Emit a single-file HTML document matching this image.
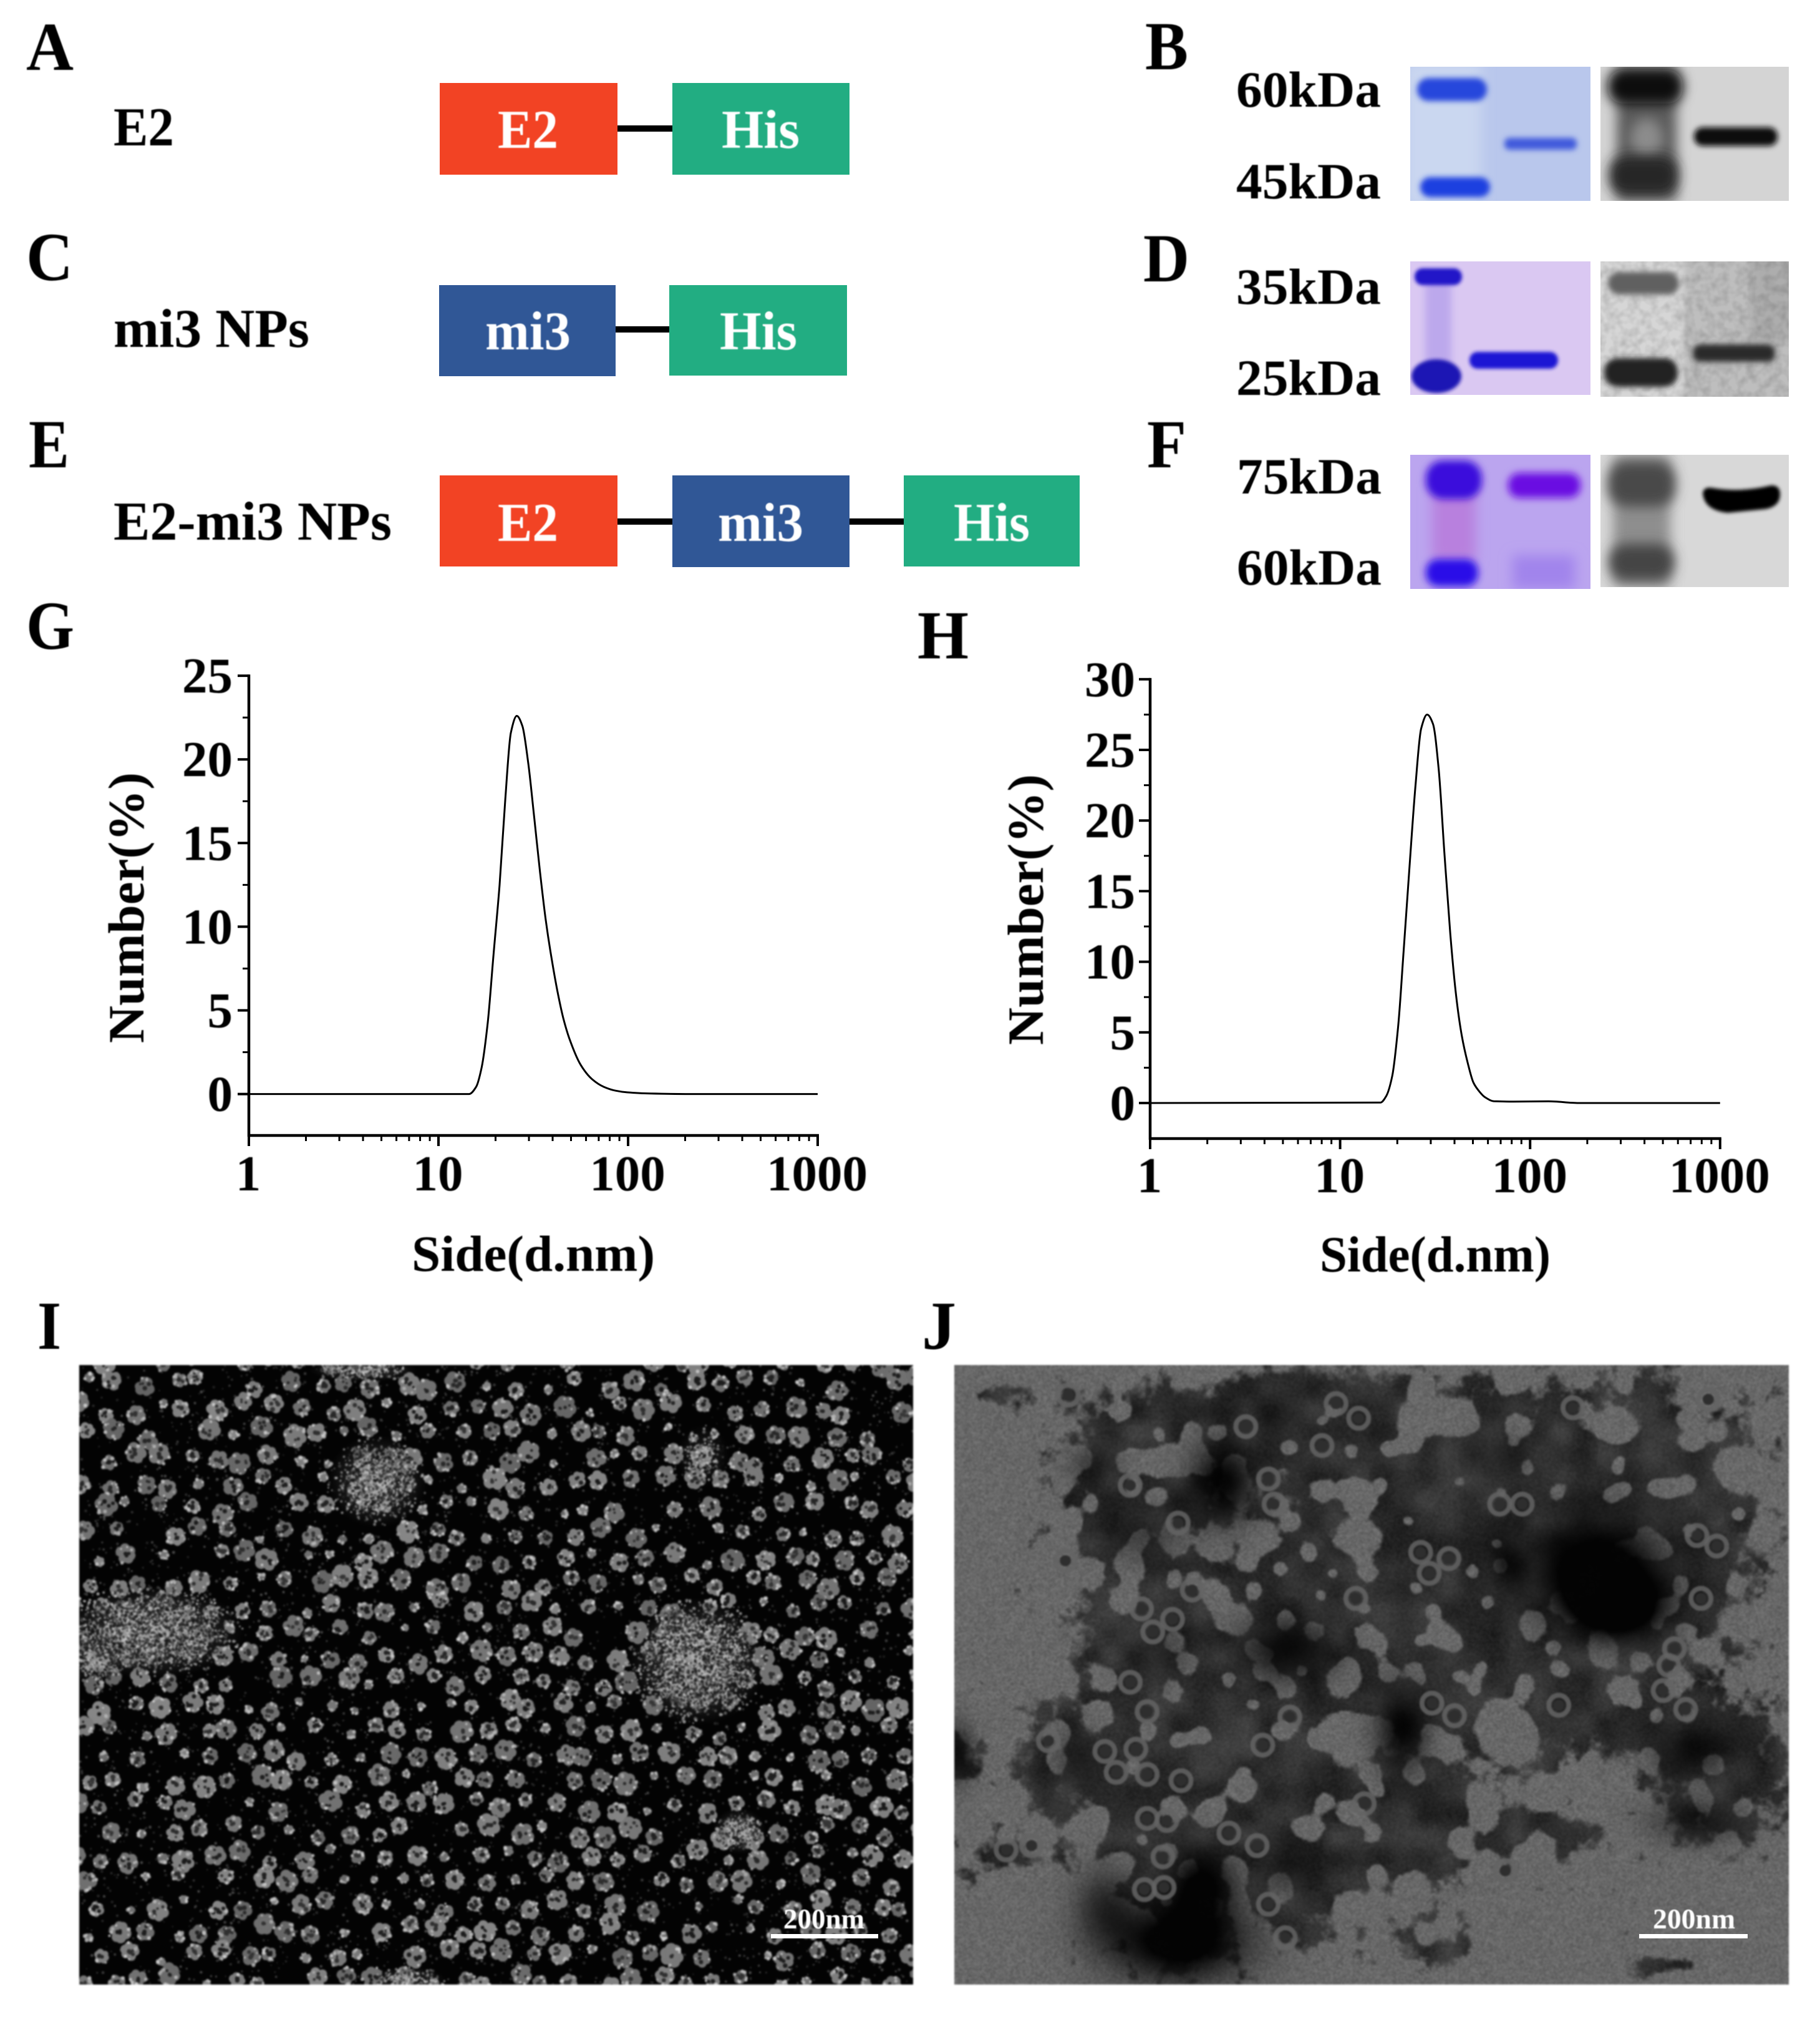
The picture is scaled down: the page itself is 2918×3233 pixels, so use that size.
<!DOCTYPE html>
<html lang="en">
<head>
<meta charset="utf-8">
<title>E2-mi3 nanoparticle characterization figure</title>
<style>
html,body{margin:0;padding:0;background:#fff;}
body{position:relative;width:2918px;height:3233px;overflow:hidden;}
canvas{position:absolute;filter:blur(1.2px);}
#figure{position:absolute;left:0;top:0;}
text{font-family:"Liberation Serif",serif;font-weight:bold;fill:#000;}
.soft{filter:blur(0.9px);}
.box-text{fill:#fff;font-size:88px;}
.row-label{font-size:88px;}
.panel{font-size:110px;}
.kda{font-size:82px;}
.tick{font-size:81px;}
.title{font-size:82px;}
.scale{fill:#fff;font-size:46px;}
</style>
</head>
<body>
<canvas id="em-i" width="1337" height="993" style="left:127px;top:2188px;width:1337px;height:993px"></canvas>
<canvas id="em-j" width="1338" height="993" style="left:1530px;top:2188px;width:1338px;height:993px"></canvas>

<svg id="figure" width="2918" height="3233" viewBox="0 0 2918 3233" xmlns="http://www.w3.org/2000/svg">
<defs>
<filter id="b2" x="-40%" y="-80%" width="180%" height="260%"><feGaussianBlur stdDeviation="3"/></filter>
<filter id="b3" x="-40%" y="-80%" width="180%" height="260%"><feGaussianBlur stdDeviation="4.5"/></filter>
<filter id="b6" x="-40%" y="-60%" width="180%" height="220%"><feGaussianBlur stdDeviation="6"/></filter>
<filter id="b10" x="-50%" y="-80%" width="200%" height="260%"><feGaussianBlur stdDeviation="10"/></filter>
<filter id="grain" x="0" y="0" width="100%" height="100%"><feTurbulence type="fractalNoise" baseFrequency="0.07" numOctaves="2" seed="4"/><feColorMatrix values="0 0 0 0 0  0 0 0 0 0  0 0 0 0 0  0.28 0 0 0 -0.1"/></filter>
</defs>

<!-- Panel letters -->
<g class="soft">
<text class="panel" x="42" y="112" textLength="76" lengthAdjust="spacingAndGlyphs">A</text>
<text class="panel" x="1836" y="111" textLength="69" lengthAdjust="spacingAndGlyphs">B</text>
<text class="panel" x="42" y="449" textLength="75" lengthAdjust="spacingAndGlyphs">C</text>
<text class="panel" x="1833" y="451" textLength="74" lengthAdjust="spacingAndGlyphs">D</text>
<text class="panel" x="46" y="749" textLength="65" lengthAdjust="spacingAndGlyphs">E</text>
<text class="panel" x="1839" y="749" textLength="63" lengthAdjust="spacingAndGlyphs">F</text>
<text class="panel" x="42" y="1040" textLength="77" lengthAdjust="spacingAndGlyphs">G</text>
<text class="panel" x="1471" y="1055" textLength="82" lengthAdjust="spacingAndGlyphs">H</text>
<text class="panel" x="60" y="2162" textLength="38" lengthAdjust="spacingAndGlyphs">I</text>
<text class="panel" x="1478" y="2162" textLength="55" lengthAdjust="spacingAndGlyphs">J</text>
</g>

<!-- Construct diagrams -->
<g>
<rect x="990" y="201" width="90" height="10" fill="#000"/>
<rect x="705" y="133" width="285" height="147" fill="#F24324"/>
<rect x="1078" y="133" width="284" height="147" fill="#22AD82"/>
</g>
<g>
<rect x="987" y="523" width="88" height="10" fill="#000"/>
<rect x="704" y="457" width="283" height="146" fill="#305796"/>
<rect x="1073" y="457" width="285" height="145" fill="#22AD82"/>
</g>
<g>
<rect x="990" y="831" width="90" height="10" fill="#000"/>
<rect x="1362" y="831" width="89" height="10" fill="#000"/>
<rect x="705" y="762" width="285" height="146" fill="#F24324"/>
<rect x="1078" y="762" width="284" height="147" fill="#305796"/>
<rect x="1449" y="762" width="282" height="146" fill="#22AD82"/>
</g>
<g class="soft">
<text class="row-label" x="182" y="233" textLength="97" lengthAdjust="spacingAndGlyphs">E2</text>
<text class="row-label" x="182" y="556" textLength="314" lengthAdjust="spacingAndGlyphs">mi3 NPs</text>
<text class="row-label" x="182" y="865" textLength="446" lengthAdjust="spacingAndGlyphs">E2-mi3 NPs</text>
<text class="box-text" x="798" y="237" textLength="97" lengthAdjust="spacingAndGlyphs">E2</text>
<text class="box-text" x="1157" y="237" textLength="125" lengthAdjust="spacingAndGlyphs">His</text>
<text class="box-text" x="778" y="560" textLength="137" lengthAdjust="spacingAndGlyphs">mi3</text>
<text class="box-text" x="1154" y="560" textLength="124" lengthAdjust="spacingAndGlyphs">His</text>
<text class="box-text" x="798" y="867" textLength="97" lengthAdjust="spacingAndGlyphs">E2</text>
<text class="box-text" x="1151" y="867" textLength="137" lengthAdjust="spacingAndGlyphs">mi3</text>
<text class="box-text" x="1529" y="867" textLength="122" lengthAdjust="spacingAndGlyphs">His</text>
</g>

<!-- kDa labels -->
<g class="soft">
<text class="kda" x="1982" y="171" textLength="232" lengthAdjust="spacingAndGlyphs">60kDa</text>
<text class="kda" x="1982" y="318" textLength="232" lengthAdjust="spacingAndGlyphs">45kDa</text>
<text class="kda" x="1982" y="487" textLength="232" lengthAdjust="spacingAndGlyphs">35kDa</text>
<text class="kda" x="1982" y="633" textLength="232" lengthAdjust="spacingAndGlyphs">25kDa</text>
<text class="kda" x="1983" y="791" textLength="232" lengthAdjust="spacingAndGlyphs">75kDa</text>
<text class="kda" x="1983" y="937" textLength="232" lengthAdjust="spacingAndGlyphs">60kDa</text>
</g>

<!-- Gel B -->
<svg x="2261" y="107" width="289" height="215" viewBox="2261 107 289 215">
<rect x="2261" y="107" width="289" height="215" fill="#B9C7EC"/>
<rect x="2255" y="100" width="120" height="230" fill="#CAD7F0" filter="url(#b10)"/>
<rect x="2272" y="125" width="112" height="37" rx="18" fill="#2747DC" filter="url(#b3)"/>
<rect x="2277" y="284" width="112" height="32" rx="16" fill="#1C3FE0" filter="url(#b3)"/>
<rect x="2412" y="221" width="116" height="19" rx="8" fill="#3F5ADC" filter="url(#b3)"/>
</svg>
<svg x="2566" y="107" width="302" height="215" viewBox="2566 107 302 215">
<rect x="2566" y="107" width="302" height="215" fill="#D4D4D4"/>
<rect x="2592" y="107" width="96" height="215" fill="#5A5A5A" filter="url(#b10)"/>
<ellipse cx="2640" cy="222" rx="26" ry="32" fill="#8C8C8C" filter="url(#b10)"/>
<rect x="2578" y="112" width="120" height="54" rx="24" fill="#0C0C0C" filter="url(#b10)"/>
<rect x="2580" y="250" width="110" height="62" rx="26" fill="#262626" filter="url(#b10)"/>
<rect x="2716" y="204" width="134" height="30" rx="14" fill="#111" filter="url(#b3)"/>
</svg>

<!-- Gel D -->
<svg x="2261" y="419" width="289" height="214" viewBox="2261 419 289 214">
<rect x="2261" y="419" width="289" height="214" fill="#DAC8F2"/>
<rect x="2285" y="440" width="42" height="150" fill="#BCA8EC" filter="url(#b6)"/>
<rect x="2268" y="430" width="76" height="27" rx="13" fill="#2218C8" filter="url(#b2)"/>
<ellipse cx="2303" cy="603" rx="40" ry="27" fill="#1A14B4" filter="url(#b2)"/>
<rect x="2356" y="564" width="142" height="27" rx="13" fill="#1E12D4" filter="url(#b2)"/>
</svg>
<svg x="2566" y="419" width="302" height="217" viewBox="2566 419 302 217">
<rect x="2566" y="419" width="302" height="217" fill="#D6D6D6"/>
<rect x="2700" y="410" width="175" height="235" fill="#BEBEBE" filter="url(#b3)"/>
<rect x="2806" y="410" width="70" height="140" fill="#ADADAD" filter="url(#b6)"/>
<rect x="2566" y="419" width="302" height="217" filter="url(#grain)"/>
<rect x="2578" y="436" width="114" height="36" rx="18" fill="#606060" filter="url(#b3)"/>
<rect x="2572" y="574" width="118" height="46" rx="22" fill="#222" filter="url(#b3)"/>
<rect x="2714" y="552" width="132" height="28" rx="12" fill="#2A2A2A" filter="url(#b3)"/>
</svg>

<!-- Gel F -->
<svg x="2261" y="729" width="289" height="215" viewBox="2261 729 289 215">
<rect x="2261" y="729" width="289" height="215" fill="#BBA5EF"/>
<rect x="2296" y="780" width="70" height="120" fill="#B880DE" filter="url(#b10)"/>
<rect x="2286" y="738" width="90" height="62" rx="28" fill="#3A0CDC" filter="url(#b6)"/>
<rect x="2286" y="896" width="84" height="44" rx="20" fill="#2A0EE8" filter="url(#b6)"/>
<rect x="2418" y="758" width="116" height="40" rx="18" fill="#6A08E2" filter="url(#b6)"/>
<rect x="2425" y="890" width="100" height="54" fill="#A184EC" filter="url(#b10)"/>
</svg>
<svg x="2566" y="729" width="302" height="212" viewBox="2566 729 302 212">
<rect x="2566" y="729" width="302" height="212" fill="#D8D8D8"/>
<rect x="2586" y="729" width="92" height="212" fill="#8E8E8E" filter="url(#b10)"/>
<rect x="2578" y="740" width="108" height="72" rx="30" fill="#4A4A4A" filter="url(#b10)"/>
<rect x="2580" y="872" width="104" height="58" rx="26" fill="#444" filter="url(#b10)"/>
<path d="M2730 790 Q2732 780 2745 782 Q2790 790 2840 778 Q2854 778 2854 792 Q2854 812 2830 816 L2770 822 Q2732 818 2730 790Z" fill="#000" filter="url(#b2)"/>
</svg>

<!-- Charts are built here by script -->
<g id="chart-g"></g>
<g id="chart-h"></g>

<!-- Scale bars -->
<g>
<rect x="1236" y="3100" width="172" height="7" fill="#fff"/>
<text class="scale soft" x="1256" y="3091" textLength="130" lengthAdjust="spacingAndGlyphs">200nm</text>
</g>
<g>
<rect x="2628" y="3100" width="174" height="7" fill="#fff"/>
<text class="scale soft" x="2650" y="3091" textLength="132" lengthAdjust="spacingAndGlyphs">200nm</text>
</g>
</svg>

<script>
/* ---------- Chart data ---------- */
const xTickValues = [1, 10, 100, 1000];
const xTickLabels = ['1', '10', '100', '1000'];
const gYTicks = [0, 5, 10, 15, 20, 25];
const hYTicks = [0, 5, 10, 15, 20, 25, 30];
const gSizes = [1, 14.5, 15.8, 16.9, 18.2, 19.5, 21, 22.5, 24.1, 25.9, 27.7, 29.8, 32, 34.3, 36.8, 39.5, 42.4, 45.5, 48.9, 56.2, 64.7, 74.5, 85.9, 98.9, 131, 200, 1000];
const gNumbers = [0, 0, 0.43, 1.6, 4.3, 8.3, 12.5, 17.6, 21.6, 22.6, 22, 19.7, 16.5, 13.3, 10.4, 8.1, 6.15, 4.55, 3.35, 1.75, 0.88, 0.43, 0.2, 0.1, 0.03, 0, 0];
const hSizes = [1, 16.3, 17.5, 18.8, 20.2, 21.6, 23.2, 24.9, 26.7, 28.7, 30.8, 33, 35.4, 38, 40.8, 43.7, 46.9, 50.3, 54, 57.9, 64.4, 82, 125, 180, 1000];
const hNumbers = [0, 0.03, 0.5, 1.9, 5.4, 10.8, 16.75, 22.4, 26.5, 27.5, 26.85, 23.7, 17.7, 12, 7.6, 4.76, 2.87, 1.45, 0.82, 0.41, 0.13, 0.1, 0.12, 0, 0];

const SVGNS = 'http://www.w3.org/2000/svg';

function mk(tag, parent, attrs) {
  const el = document.createElementNS(SVGNS, tag);
  for (const k in attrs) el.setAttribute(k, attrs[k]);
  parent.appendChild(el);
  return el;
}

/* Monotone cubic through the read points, so the curve never overshoots */
function curvePath(pts) {
  const n = pts.length;
  const dx = [], s = [], m = [];
  for (let i = 0; i < n - 1; i++) {
    dx[i] = pts[i + 1][0] - pts[i][0];
    s[i] = (pts[i + 1][1] - pts[i][1]) / dx[i];
  }
  m[0] = s[0];
  m[n - 1] = s[n - 2];
  for (let i = 1; i < n - 1; i++) {
    if (s[i - 1] * s[i] <= 0) {
      m[i] = 0;
    } else {
      const w1 = 2 * dx[i] + dx[i - 1], w2 = dx[i] + 2 * dx[i - 1];
      m[i] = (w1 + w2) / (w1 / s[i - 1] + w2 / s[i]);
    }
  }
  let d = 'M' + pts[0][0].toFixed(1) + ' ' + pts[0][1].toFixed(1);
  for (let i = 0; i < n - 1; i++) {
    const h = dx[i] / 3;
    d += 'C' + (pts[i][0] + h).toFixed(1) + ' ' + (pts[i][1] + m[i] * h).toFixed(1) + ' ' + (pts[i + 1][0] - h).toFixed(1) + ' ' + (pts[i + 1][1] - m[i + 1] * h).toFixed(1) + ' ' + pts[i + 1][0].toFixed(1) + ' ' + pts[i + 1][1].toFixed(1);
  }
  return d;
}

function drawChart(cfg) {
  const g = cfg.group;
  const xPos = v => cfg.x0 + Math.log10(v) * cfg.decade;
  const yPos = v => cfg.y0 - v * cfg.unit;
  const top = yPos(cfg.yTicks[cfg.yTicks.length - 1]);

  const yAxis = mk('line', g, {x1: cfg.x0, x2: cfg.x0, y1: top - 2, y2: cfg.bottom + 2, stroke: '#000', 'stroke-width': 4.5});
  
  
  const xAxis = mk('line', g, {x1: cfg.x0 - 2, x2: xPos(1000) + 2, y1: cfg.bottom, y2: cfg.bottom, stroke: '#000', 'stroke-width': 4.5});
  
  

  cfg.yTicks.forEach((v, i) => {
    const tick = mk('line', g, {x1: cfg.x0 - 18, x2: cfg.x0, y1: yPos(v), y2: yPos(v), stroke: '#000', 'stroke-width': 4});
    
    
    const lab = mk('text', g, {x: cfg.labelRight, y: yPos(v) + 27, 'text-anchor': 'end', class: 'tick soft'});
    lab.textContent = String(v);
    
    
    if (i < cfg.yTicks.length - 1) {
      const minorValue = (v + cfg.yTicks[i + 1]) / 2;
      const minor = mk('line', g, {x1: cfg.x0 - 10, x2: cfg.x0, y1: yPos(minorValue), y2: yPos(minorValue), stroke: '#000', 'stroke-width': 3});
      
      
    }
  });

  xTickValues.forEach((v, i) => {
    const tick = mk('line', g, {x1: xPos(v), x2: xPos(v), y1: cfg.bottom, y2: cfg.bottom + 17, stroke: '#000', 'stroke-width': 4});
    
    
    const lab = mk('text', g, {x: xPos(v) - 1, y: cfg.xLabelBase, 'text-anchor': 'middle', class: 'tick soft'});
    lab.textContent = xTickLabels[i];
    
    
    if (v < 1000) {
      for (let m = 2; m <= 9; m++) {
        const minor = mk('line', g, {x1: xPos(v * m), x2: xPos(v * m), y1: cfg.bottom, y2: cfg.bottom + 9, stroke: '#000', 'stroke-width': 3});
        
        
      }
    }
  });

  const pts = cfg.sizes.map((s, i) => [xPos(s), yPos(cfg.values[i])]);
  const line = mk('path', g, {d: curvePath(pts), fill: 'none', stroke: '#000', 'stroke-width': 3, 'stroke-linejoin': 'round'});
  
  

  const xt = mk('text', g, {x: cfg.xTitleX, y: cfg.xTitleY, textLength: cfg.xTitleW, lengthAdjust: 'spacingAndGlyphs', class: 'title soft'});
  xt.textContent = 'Side(d.nm)';
  
  
  const yt = mk('text', g, {transform: 'translate(' + cfg.yTitleX + ' ' + cfg.yTitleBottom + ') rotate(-90)', textLength: cfg.yTitleLen, lengthAdjust: 'spacingAndGlyphs', class: 'title soft'});
  yt.textContent = 'Number(%)';
  
  
}

drawChart({group: document.getElementById('chart-g'), x0: 399, decade: 304, y0: 1753.6, unit: 26.82, bottom: 1820, yTicks: gYTicks, sizes: gSizes, values: gNumbers, labelRight: 373, xLabelBase: 1908, xTitleX: 660, xTitleY: 2037, xTitleW: 390, yTitleX: 230, yTitleBottom: 1672, yTitleLen: 434});
drawChart({group: document.getElementById('chart-h'), x0: 1844, decade: 304.6, y0: 1768, unit: 22.64, bottom: 1825, yTicks: hYTicks, sizes: hSizes, values: hNumbers, labelRight: 1820, xLabelBase: 1911, xTitleX: 2116, xTitleY: 2038, xTitleW: 370, yTitleX: 1672, yTitleBottom: 1675, yTitleLen: 434});

/* ---------- Electron micrograph textures ---------- */
function rng(seed) {
  return function () {
    seed |= 0; seed = seed + 0x6D2B79F5 | 0;
    let t = Math.imul(seed ^ seed >>> 15, 1 | seed);
    t = t + Math.imul(t ^ t >>> 7, 61 | t) ^ t;
    return ((t ^ t >>> 14) >>> 0) / 4294967296;
  };
}

(function drawI() {
  const c = document.getElementById('em-i').getContext('2d');
  const r = rng(11);
  const zx = z => (z - 30) / 1.12, zy = z => (z - 13) / 1.489;
  const grey = (l, a) => 'rgba(' + l + ',' + l + ',' + l + ',' + a + ')';
  c.fillStyle = '#030303';
  c.fillRect(0, 0, 1337, 993);
  for (let k = 0; k < 5000; k++) {
    c.fillStyle = grey(30 + r() * 50 | 0, 1);
    c.beginPath();
    c.arc(r() * 1337, r() * 993, 1 + r() * 1.4, 0, 6.283);
    c.fill();
  }
  const voids = [[350, 330, 60], [450, 640, 50], [980, 800, 45], [720, 470, 50], [1350, 900, 35], [1430, 60, 70], [600, 170, 40], [1130, 1100, 35], [300, 1050, 30], [200, 780, 35]];
  const clouds = [[160, 650, 120, 80, 1], [1140, 720, 90, 110, 1], [565, 290, 65, 80, .8], [1215, 1125, 35, 40, .75], [540, 25, 70, 20, .75], [620, 1480, 50, 22, .6], [1150, 230, 35, 55, .35], [60, 720, 40, 40, .5]];
  const sp = 46;
  for (let j = 0; j * sp * 0.866 < 1040; j++) {
    for (let i = 0; i * sp < 1400; i++) {
      const px = i * sp + (j % 2) * sp / 2 + (r() - .5) * 24 - 10;
      const py = j * sp * 0.866 + (r() - .5) * 24 - 10;
      let skip = .04;
      voids.forEach(v => {
        const dx = px - zx(v[0]), dy = py - zy(v[1]);
        if (dx * dx + dy * dy < v[2] * v[2]) skip = .35;
      });
      if (r() < skip) continue;
      const rad = r() < .2 ? 6 + r() * 3 : 11 + r() * 8;
      const base = 100 + r() * 35 | 0;
      c.fillStyle = grey(base, 1);
      const petals = 6;
      for (let k = 0; k < petals; k++) {
        const a = k / petals * 6.283 + r() * .5;
        c.beginPath();
        c.arc(px + Math.cos(a) * rad * .55, py + Math.sin(a) * rad * .55, rad * (.42 + r() * .12), 0, 6.283);
        c.fill();
      }
      c.beginPath();
      c.arc(px, py, rad * .6, 0, 6.283);
      c.fill();
      const holes = rad > 9 ? 3 + r() * 4 | 0 : 0;
      c.fillStyle = grey(25 + r() * 30 | 0, 1);
      for (let k = 0; k < holes; k++) {
        const a = r() * 6.283, d = r() * rad * .6;
        c.beginPath();
        c.arc(px + Math.cos(a) * d, py + Math.sin(a) * d, 1.8 + r() * 2, 0, 6.283);
        c.fill();
      }
      const spots = 3 + r() * 6 | 0;
      for (let k = 0; k < spots; k++) {
        const a = r() * 6.283, d = rad * (.6 + r() * .4);
        c.fillStyle = grey(165 + r() * 50 | 0, .85);
        c.beginPath();
        c.arc(px + Math.cos(a) * d, py + Math.sin(a) * d, 1.6 + r() * 1.6, 0, 6.283);
        c.fill();
      }
    }
  }
  clouds.forEach(cl => {
    const cx = zx(cl[0]), cy = zy(cl[1]), rx = cl[2] / 1.12, ry = cl[3] / 1.489;
    c.save();
    c.translate(cx, cy);
    c.scale(rx, ry);
    const g = c.createRadialGradient(0, 0, 0, 0, 0, 1.4);
    g.addColorStop(0, grey(135, .55 * cl[4]));
    g.addColorStop(.6, grey(105, .3 * cl[4]));
    g.addColorStop(1, grey(80, 0));
    c.fillStyle = g;
    c.beginPath();
    c.arc(0, 0, 1.4, 0, 6.283);
    c.fill();
    c.restore();
    const n = rx * ry * .45 * cl[4] | 0;
    for (let k = 0; k < n; k++) {
      const a = r() * 6.283;
      const d = Math.sqrt(-2 * Math.log(1 - r() * .98)) * .5;
      c.fillStyle = grey(120 + r() * 90 | 0, .75);
      c.beginPath();
      c.arc(cx + Math.cos(a) * d * rx, cy + Math.sin(a) * d * ry, 1.2 + r() * 1.5, 0, 6.283);
      c.fill();
    }
    for (let k = 0; k < n * .5; k++) {
      const a = r() * 6.283;
      const d = Math.sqrt(r()) * 1.15;
      c.fillStyle = grey(20, .6);
      c.beginPath();
      c.arc(cx + Math.cos(a) * d * rx, cy + Math.sin(a) * d * ry, 1.2 + r() * 1.5, 0, 6.283);
      c.fill();
    }
  });
})();

(function drawJ() {
  const W = 669, H = 497;
  const off = document.createElement('canvas');
  off.width = W;
  off.height = H;
  const oc = off.getContext('2d');
  const img = oc.createImageData(W, H);
  const r = rng(29);
  const zx = z => (z - 33) / 1.106 / 2, zy = z => (z - 13) / 1.489 / 2;
  const toE = a => ({cx: zx(a[0]), cy: zy(a[1]), rx: a[2] / 1.106 / 2, ry: a[3] / 1.489 / 2, w: a[4]});
  const mids = [[350,350,130,200,1],[400,200,120,100,.9],[150,80,100,40,.8],[600,130,150,110,.9],[800,250,110,170,.8],[700,600,200,200,.9],[350,800,130,350,1],[200,950,70,120,.8],[130,1170,90,90,.7],[420,1150,130,350,1],[600,1050,100,300,.8],[700,1100,200,180,.7],[850,1090,140,110,.7],[950,600,130,320,1],[1150,300,220,180,1],[1000,200,120,120,.8],[1300,300,150,200,.9],[1300,600,150,250,1],[1100,800,130,150,.9],[1400,1030,120,150,1],[1330,900,120,70,.9],[950,1150,200,70,.7],[1100,1130,100,40,.7],[700,1230,130,150,.7],[1480,80,60,60,.5],[1250,60,60,50,.5],[880,1400,80,70,.7],[1180,1350,40,70,.6],[1280,1450,60,30,.7],[40,940,40,100,.9],
    [800,450,300,300,.8],[700,800,250,250,.6],[1000,300,150,100,.5],[950,760,200,110,.5],[800,120,200,80,.4]].map(toE);
  const lights = [[400,240,70,50],[490,445,32,38],[570,430,36,42],[750,430,60,62],[530,620,42,42],[620,620,24,34],[890,655,36,50],[720,760,42,52],[1000,860,50,80],[905,920,28,32],[730,900,55,70],[1200,320,30,32],[1300,310,22,34],[1285,450,32,32],[1420,270,30,50],[1180,690,30,50],[740,310,34,38],[540,1020,34,36],[270,1120,28,42],[900,140,70,60],[1030,160,35,35],[1200,160,45,45],[660,1120,50,50],[1110,580,25,30],[620,780,25,40],[850,740,28,35],[925,755,22,25],[340,485,25,50],[660,460,18,28],[1340,195,25,30],[1040,900,30,50]].map(a => toE(a.concat(-2.4)));
  const blacks = [[1170,500,125,135,1.3],[1210,590,85,80,1.3],[510,290,65,105,1],[430,1390,135,105,1.2],[470,1250,65,95,1],[620,690,95,85,.85],[825,880,50,115,.9],[1340,930,75,75,.7],[40,940,30,80,.7],[300,1300,60,100,.55],[1350,1100,90,60,.55],[620,1220,55,65,.45],[370,420,80,70,.4],[280,250,50,50,.45],[1010,480,35,70,.6],[400,700,60,80,.35],[250,950,50,80,.4],[1000,230,70,60,.35],[600,130,70,50,.3]].map(toE);

  const field = new Float32Array(W * H);
  const black = new Float32Array(W * H);
  function splat(arr, e, sharp) {
    const ex = e.rx * 2.6, ey = e.ry * 2.6;
    const x0 = Math.max(0, Math.floor(e.cx - ex)), x1 = Math.min(W - 1, Math.ceil(e.cx + ex));
    const y0 = Math.max(0, Math.floor(e.cy - ey)), y1 = Math.min(H - 1, Math.ceil(e.cy + ey));
    for (let y = y0; y <= y1; y++) {
      for (let x = x0; x <= x1; x++) {
        const dx = (x - e.cx) / e.rx, dy = (y - e.cy) / e.ry;
        arr[y * W + x] += e.w * Math.exp(-(dx * dx + dy * dy) * sharp);
      }
    }
  }
  mids.forEach(e => splat(field, e, 1));
  lights.forEach(e => splat(field, e, 1.6));
  blacks.forEach(e => splat(black, e, 1.2));
  /* scattered small pale particles on the dark stain */
  const br = rng(77);
  for (let gy = 0; gy < H; gy += 30) {
    for (let gx = 0; gx < W; gx += 30) {
      if (br() < .35) continue;
      const rr = 5 + br() * 9;
      splat(field, {cx: gx + br() * 30, cy: gy + br() * 30, rx: rr, ry: rr * (0.8 + br() * .5), w: -2.2}, 1.6);
    }
  }

  const lat = {};
  const rn = rng(5);
  function hash(ix, iy, s) {
    const k = ix + ',' + iy + ',' + s;
    if (lat[k] === undefined) lat[k] = rn();
    return lat[k];
  }
  function vnoise(x, y, s) {
    const ix = Math.floor(x), iy = Math.floor(y), fx = x - ix, fy = y - iy;
    const ux = fx * fx * (3 - 2 * fx), uy = fy * fy * (3 - 2 * fy);
    const a = hash(ix, iy, s), b = hash(ix + 1, iy, s), c = hash(ix, iy + 1, s), d = hash(ix + 1, iy + 1, s);
    return (a + (b - a) * ux) * (1 - uy) + (c + (d - c) * ux) * uy;
  }
  for (let y = 0; y < H; y++) {
    for (let x = 0; x < W; x++) {
      const n = vnoise(x / 12, y / 12, 1) * .5 + vnoise(x / 5, y / 5, 2) * .32 + vnoise(x / 2.2, y / 2.2, 3) * .18;
      const f = field[y * W + x] + (n - .5) * 1.15;
      let t = (f - .34) / .3;
      t = t < 0 ? 0 : t > 1 ? 1 : t;
      const dark = 30 + 36 * vnoise(x / 18, y / 18, 4);
      let lum = 104 * (1 - t) + dark * t;
      const b = black[y * W + x];
      lum *= 1 - Math.min(.96, b * .95);
      lum += (r() - .5) * (t < .5 ? 36 : 20) * (1 - Math.min(.9, b));
      lum = lum < 3 ? 3 : lum;
      const p = (y * W + x) * 4;
      img.data[p] = img.data[p + 1] = img.data[p + 2] = lum;
      img.data[p + 3] = 255;
    }
  }
  oc.putImageData(img, 0, 0);
  const c = document.getElementById('em-j').getContext('2d');
  c.imageSmoothingEnabled = true;
  c.drawImage(off, 0, 0, 1338, 993);
  const rings = [[550,160],[590,285],[600,345],[345,300],[430,390],[455,550],[365,595],[420,620],[385,650],[345,770],[375,840],[300,935],[355,930],[320,985],[375,990],[435,1005],[375,1095],[410,1100],[403,1187],[370,1265],[405,1260],[590,1300],[620,1380],[580,920],[628,853],[745,570],[910,475],[875,510],[860,460],[1000,345],[1040,345],[1350,420],[1385,445],[1357,570],[1290,790],[1330,835],[1105,825],[920,850],[880,820],[1130,115],[1370,95],[750,140],[710,105],[685,205],[235,85],[230,480],[1300,730],[1310,690],[1010,1220],[200,910],[125,1170],[170,1160],[520,1130],[570,1160],[760,1060]];
  rings.forEach(p => {
    const x = (p[0] - 33) / 1.106, y = (p[1] - 13) / 1.489;
    c.beginPath();
    c.arc(x, y, 16, 0, 6.283);
    c.lineWidth = 8;
    c.strokeStyle = 'rgba(100,100,100,.85)';
    c.stroke();
    c.beginPath();
    c.arc(x, y, 9, 0, 6.283);
    c.fillStyle = 'rgb(46,46,46)';
    c.fill();
  });
})();
</script>
</body>
</html>
